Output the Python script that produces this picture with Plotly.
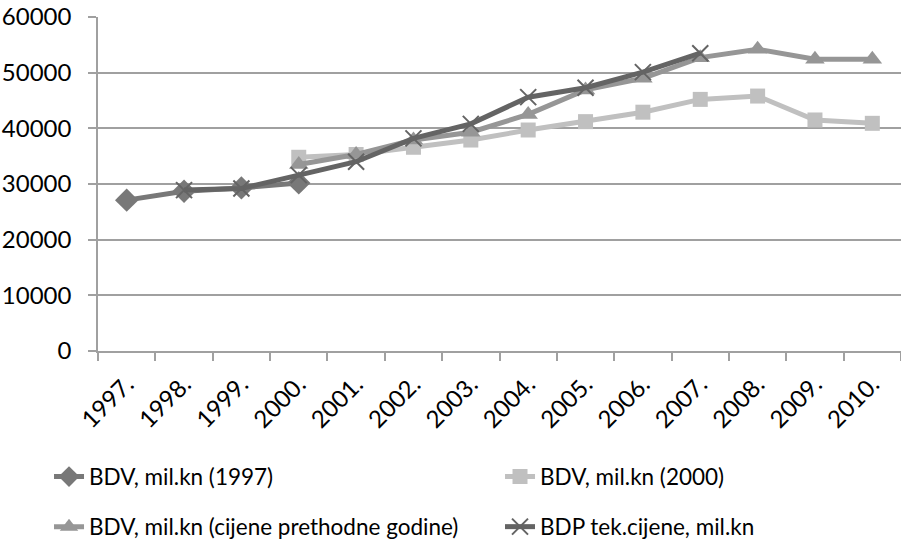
import plotly.graph_objects as go

years = ["1997.", "1998.", "1999.", "2000.", "2001.", "2002.", "2003.",
         "2004.", "2005.", "2006.", "2007.", "2008.", "2009.", "2010."]

bdv_1997 = [27100, 28700, 29300, 30200, None, None, None, None, None, None, None, None, None, None]
bdv_2000 = [None, None, None, 34800, 35300, 36600, 37900, 39700, 41200, 42900, 45200, 45800, 41500, 40900]
bdv_prev = [None, None, None, 33500, 35300, 37900, 39300, 42500, 46900, 49000, 52700, 54200, 52400, 52400]
bdp_tek = [None, 28900, 29200, 31600, 34000, 38200, 40800, 45600, 47300, 50100, 53500, None, None, None]

names = ["BDV, mil.kn (1997)", "BDV, mil.kn (2000)",
         "BDV, mil.kn (cijene prethodne godine)", "BDP tek.cijene, mil.kn"]

y_ticks = [0, 10000, 20000, 30000, 40000, 50000, 60000]

FONT = "Lato"

fig = go.Figure()
fig.add_trace(go.Scatter(
    x=years, y=bdv_1997, name=names[0], mode="lines+markers",
    line=dict(color="#787878", width=5),
    marker=dict(symbol="diamond", size=18, color="#787878"),
    legend="legend"))
fig.add_trace(go.Scatter(
    x=years, y=bdv_2000, name=names[1], mode="lines+markers",
    line=dict(color="#c0c0c0", width=5),
    marker=dict(symbol="square", size=15, color="#c0c0c0"),
    legend="legend"))
fig.add_trace(go.Scatter(
    x=years, y=bdv_prev, name=names[2], mode="lines+markers",
    line=dict(color="#969696", width=5),
    marker=dict(symbol="triangle-up", size=17, color="#969696"),
    legend="legend2"))
fig.add_trace(go.Scatter(
    x=years, y=bdp_tek, name=names[3], mode="lines+markers",
    line=dict(color="#646464", width=5),
    marker=dict(symbol="x-thin", size=16, color="#646464",
                line=dict(color="#646464", width=2)),
    legend="legend2"))

legend_common = dict(orientation="h", xanchor="left", yanchor="middle",
                     font=dict(family=FONT, size=22.5, color="#000000"),
                     entrywidth=406, entrywidthmode="pixels",
                     bgcolor="rgba(0,0,0,0)", borderwidth=0,
                     itemclick=False, itemdoubleclick=False)

fig.update_layout(
    width=901, height=539,
    margin=dict(l=97.5, r=0, t=17, b=188, autoexpand=False),
    paper_bgcolor="#ffffff", plot_bgcolor="#ffffff",
    font=dict(family=FONT, size=24, color="#000000"),
    legend=dict(x=-0.061, y=-0.377, **legend_common),
    legend2=dict(x=-0.061, y=-0.527, **legend_common),
    showlegend=True,
)

fig.update_xaxes(
    type="category", range=[-0.5, 13.5], automargin=False,
    tickangle=-45, tickson="boundaries", ticks="outside", ticklen=8,
    tickwidth=1.5, tickcolor="#a0a0a0",
    showline=True, linecolor="#a0a0a0", linewidth=1.5,
    showgrid=False, zeroline=False, ticklabelstandoff=8,
    tickfont=dict(family=FONT, size=24, color="#000000"),
)
fig.update_yaxes(
    range=[0, 60000], tickvals=y_ticks, ticktext=[str(v) for v in y_ticks],
    automargin=False,
    ticks="outside", ticklen=8, tickwidth=1.5, tickcolor="#a0a0a0",
    showline=True, linecolor="#a0a0a0", linewidth=1.5,
    showgrid=True, gridcolor="#a0a0a0", gridwidth=1.5,
    zeroline=False, ticklabelstandoff=12,
    tickfont=dict(family=FONT, size=24, color="#000000"),
)

fig.write_html("out.html", config={"displayModeBar": False},
               post_script="document.body.style.margin='0';document.body.style.overflow='hidden';")
